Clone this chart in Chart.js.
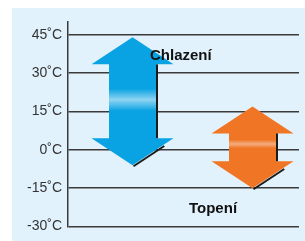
<!DOCTYPE html>
<html>
<head>
<meta charset="utf-8">
<script src="https://cdn.jsdelivr.net/npm/chart.js@4"></script>
<style>
  body { margin: 0; background: #fff; }
</style>
</head>
<body>
<canvas id="grafico" width="305" height="241"></canvas>
<script>
// rezimy a rozsah teplot (°C)
var rezimy = ['Chlazení', 'Topení'];
var teplotaMin = [-6, -15];
var teplotaMax = [44, 17];
var osaY = [-30, -15, 0, 15, 30, 45];

var barvy = [
  { zaklad: '#09a3e3', svetla: '#8fd4f1', pas: 0.48 },
  { zaklad: '#f07524', svetla: '#f5ad80', pas: 0.38 }
];

var pozadi = {
  id: 'pozadi',
  beforeDraw: function(chart) {
    var ctx = chart.ctx;
    ctx.save();
    ctx.fillStyle = '#e2f2fc';
    ctx.fillRect(12, 8, chart.width - 12, chart.height - 8);
    ctx.restore();
  }
};

// sipky kreslene podle pozic sloupcu
var sipky = {
  id: 'sipky',
  afterDatasetsDraw: function(chart) {
    var ctx = chart.ctx;
    var meta = chart.getDatasetMeta(0);
    meta.data.forEach(function(el, i) {
      var cx = el.x;
      var horni = Math.min(el.y, el.base);
      var dolni = Math.max(el.y, el.base);
      var hw = el.width / 2;
      var sw = hw * 0.573;
      var hh = 27;
      var b = barvy[i];

      var g = ctx.createLinearGradient(0, horni + hh, 0, dolni - hh);
      g.addColorStop(0, b.zaklad);
      g.addColorStop(Math.max(0, b.pas - 0.15), b.zaklad);
      g.addColorStop(b.pas, b.svetla);
      g.addColorStop(Math.min(1, b.pas + 0.15), b.zaklad);
      g.addColorStop(1, b.zaklad);

      ctx.save();
      ctx.beginPath();
      ctx.moveTo(cx, horni);
      ctx.lineTo(cx + hw, horni + hh);
      ctx.lineTo(cx + sw, horni + hh);
      ctx.lineTo(cx + sw, dolni - hh);
      ctx.lineTo(cx + hw, dolni - hh);
      ctx.lineTo(cx, dolni);
      ctx.lineTo(cx - hw, dolni - hh);
      ctx.lineTo(cx - sw, dolni - hh);
      ctx.lineTo(cx - sw, horni + hh);
      ctx.lineTo(cx - hw, horni + hh);
      ctx.closePath();
      ctx.fillStyle = g;
      ctx.fill();

      // stin
      ctx.strokeStyle = '#1b1b1b';
      ctx.lineWidth = 2;
      ctx.beginPath();
      ctx.moveTo(cx + sw + 1, horni + hh);
      ctx.lineTo(cx + sw + 1, dolni - hh);
      ctx.stroke();
      ctx.beginPath();
      ctx.moveTo(cx + 1, dolni + 1);
      ctx.lineTo(cx + hw * 0.75 + 1, dolni - hh * 0.75 + 1);
      ctx.stroke();

      // popisky
      ctx.fillStyle = '#111';
      ctx.font = 'bold 15px "Liberation Sans", Arial, sans-serif';
      ctx.textAlign = 'left';
      ctx.textBaseline = 'alphabetic';
      if (i === 0) {
        ctx.fillText(rezimy[i], cx + 17.5, horni + 23);
      } else {
        ctx.fillText(rezimy[i], cx - 63.5, dolni + 25);
      }
      ctx.restore();
    });
  }
};

var dados = rezimy.map(function(r, i) {
  return { x: i, y: [teplotaMin[i], teplotaMax[i]] };
});

new Chart(document.getElementById('grafico'), {
  type: 'bar',
  data: {
    labels: rezimy,
    datasets: [{
      label: 'Rozsah',
      data: dados,
      backgroundColor: 'rgba(0,0,0,0)',
      borderWidth: 0,
      barThickness: 82
    }]
  },
  options: {
    responsive: false,
    animation: false,
    layout: { padding: { top: 22, bottom: 12, right: 6, left: 0 } },
    plugins: { legend: { display: false }, tooltip: { enabled: false } },
    scales: {
      x: {
        type: 'linear',
        min: -0.5375,
        max: 1.3875,
        offset: false,
        grid: { offset: false },
        display: false
      },
      y: {
        min: -30,
        max: 50,
        afterBuildTicks: function(scale) {
          scale.ticks = osaY.map(function(v) { return { value: v }; });
        },
        afterFit: function(scale) { scale.width = 68; },
        grid: { color: '#3a3a3a', lineWidth: 1.5, drawTicks: false },
        border: { color: '#3a3a3a', width: 1.5 },
        ticks: {
          padding: 6,
          color: '#333',
          font: { family: '"Liberation Sans", Arial, sans-serif', size: 14 },
          callback: function(v) { return v + '˚C'; }
        }
      }
    }
  },
  plugins: [pozadi, sipky]
});
</script>
</body>
</html>
